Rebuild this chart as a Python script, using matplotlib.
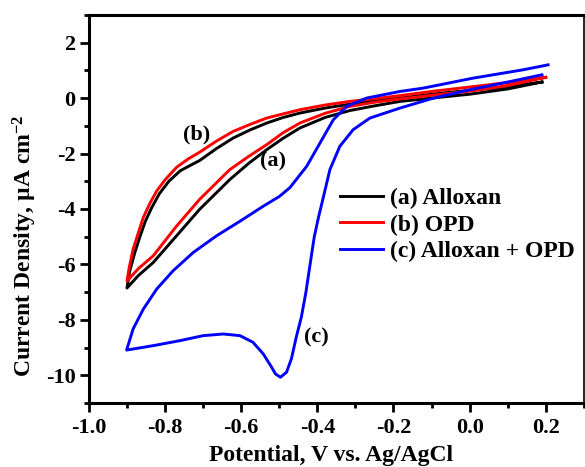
import matplotlib
matplotlib.use("Agg")
import matplotlib.pyplot as plt
from matplotlib.ticker import MultipleLocator

plt.rcParams['font.family'] = ['Liberation Serif', 'DejaVu Serif']
plt.rcParams['font.weight'] = 'bold'
plt.rcParams['axes.unicode_minus'] = False
plt.rcParams['mathtext.fontset'] = 'custom'
plt.rcParams['mathtext.rm'] = 'Liberation Serif:bold'
plt.rcParams['mathtext.it'] = 'Liberation Serif:bold'
plt.rcParams['mathtext.bf'] = 'Liberation Serif:bold'
plt.rcParams['mathtext.default'] = 'bf'

# (a) Alloxan: inner branch 0.19 -> -0.9, then outer branch back to 0.19
a_x = [0.19, 0.1, 0.0, -0.1, -0.183, -0.25, -0.315, -0.38, -0.446, -0.49, -0.533, -0.58, -0.630, -0.709,
       -0.770, -0.831, -0.87, -0.90,
       -0.893, -0.880, -0.866, -0.852, -0.835, -0.815, -0.79, -0.76, -0.73, -0.709, -0.665, -0.621,
       -0.577, -0.533, -0.49, -0.446, -0.38, -0.315, -0.25, -0.183, -0.1, 0.0, 0.1, 0.19]
a_y = [0.58, 0.33, 0.14, 0.0, -0.12, -0.28, -0.45, -0.70, -1.08, -1.45, -1.86, -2.35, -2.94, -4.01,
       -4.97, -5.93, -6.40, -6.85,
       -6.25, -5.60, -5.00, -4.45, -3.95, -3.45, -3.00, -2.62, -2.40, -2.25, -1.82, -1.44,
       -1.15, -0.90, -0.70, -0.54, -0.36, -0.22, -0.10, 0.00, 0.14, 0.28, 0.42, 0.58]

# (b) OPD
b_x = [0.20, 0.1, 0.0, -0.1, -0.183, -0.25, -0.315, -0.38, -0.446, -0.49, -0.533, -0.58, -0.630, -0.709,
       -0.770, -0.831, -0.87, -0.90,
       -0.894, -0.884, -0.870, -0.857, -0.84, -0.822, -0.80, -0.77, -0.74, -0.709, -0.665, -0.621,
       -0.577, -0.533, -0.49, -0.446, -0.38, -0.315, -0.25, -0.183, -0.1, 0.0, 0.1, 0.20]
b_y = [0.75, 0.45, 0.25, 0.10, -0.03, -0.15, -0.30, -0.55, -0.90, -1.25, -1.68, -2.10, -2.58, -3.65,
       -4.62, -5.69, -6.15, -6.60,
       -6.10, -5.45, -4.85, -4.30, -3.80, -3.35, -2.95, -2.50, -2.20, -1.95, -1.55, -1.20,
       -0.95, -0.72, -0.57, -0.42, -0.25, -0.12, -0.02, 0.09, 0.24, 0.40, 0.56, 0.75]

# (c) Alloxan + OPD: cathodic branch with peak, then return branch
c_x = [0.19, 0.1, 0.0, -0.1, -0.183, -0.262, -0.306, -0.341, -0.367, -0.389, -0.397, -0.408, -0.418,
       -0.430, -0.442, -0.455, -0.468, -0.481, -0.497, -0.51, -0.520, -0.542, -0.569, -0.603, -0.647,
       -0.700, -0.761, -0.831, -0.901,
       -0.884, -0.857, -0.822, -0.779, -0.726, -0.665, -0.603, -0.542, -0.50, -0.472, -0.428, -0.393,
       -0.358, -0.323, -0.271, -0.183, -0.122, 0.009, 0.140, 0.206]
c_y = [0.84, 0.58, 0.30, -0.02, -0.36, -0.72, -1.14, -1.74, -2.58, -3.85, -4.30, -5.00, -5.90,
       -7.00, -7.90, -8.60, -9.40, -9.89, -10.07, -9.95, -9.71, -9.23, -8.81, -8.57, -8.51,
       -8.57, -8.75, -8.93, -9.09,
       -8.33, -7.61, -6.89, -6.23, -5.57, -4.97, -4.44, -3.90, -3.55, -3.23, -2.46, -1.62,
       -0.78, -0.30, 0.00, 0.24, 0.36, 0.72, 1.02, 1.20]

series_labels = ['(a) Alloxan', '(b) OPD', '(c) Alloxan + OPD']
series_colors = ['black', 'red', 'blue']

fig = plt.figure(figsize=(5.85, 4.67), dpi=100)
ax = fig.add_axes([0.152, 0.137, 0.846, 0.831])

for xs, ys, lab, col in zip([a_x, b_x, c_x], [a_y, b_y, c_y], series_labels, series_colors):
    ax.plot(xs, ys, color=col, lw=2.1, label=lab, solid_joinstyle='round')

ax.set_xlim(-1.0, 0.3)
ax.set_ylim(-11, 3)
ax.xaxis.set_minor_locator(MultipleLocator(0.1))
ax.yaxis.set_minor_locator(MultipleLocator(1))
ax.set_xticks([-1.0, -0.8, -0.6, -0.4, -0.2, 0.0, 0.2])
ax.set_xticklabels(['-1.0', '-0.8', '-0.6', '-0.4', '-0.2', '0.0', '0.2'])
ax.set_yticks([-10, -8, -6, -4, -2, 0, 2])
ax.set_yticklabels(['-10', '-8', '-6', '-4', '-2', '0', '2'])

ax.tick_params(which='major', direction='out', length=6.5, width=2, labelsize=16)
ax.tick_params(axis='x', which='major', pad=4)
ax.tick_params(axis='y', which='major', pad=3)
ax.tick_params(which='minor', direction='out', length=3.8, width=2)
ax.tick_params(top=False, right=False, which='both')
for s in ['left', 'bottom', 'top']:
    ax.spines[s].set_linewidth(2.2)
ax.spines['right'].set_linewidth(1.2)

for lbl in ax.get_xticklabels() + ax.get_yticklabels():
    lbl.set_fontweight('bold')

ax.set_xlabel('Potential, V vs. Ag/AgCl', fontsize=17, fontweight='bold')
ax.set_ylabel('Current Density, µA cm$^{-2}$', fontsize=17, fontweight='bold')
ax.xaxis.set_label_coords(0.489, -0.108)
ax.yaxis.set_label_coords(-0.10, 0.405)

ax.text(-0.717, -1.32, '(b)', fontsize=16, fontweight='bold', ha='center', va='center')
ax.text(-0.516, -2.3, '(a)', fontsize=16, fontweight='bold', ha='center', va='center')
ax.text(-0.402, -8.63, '(c)', fontsize=16, fontweight='bold', ha='center', va='center')

leg = ax.legend(loc='center left', bbox_to_anchor=(0.507, 0.459), frameon=False,
                prop={'size': 17, 'weight': 'bold'}, handlelength=1.82, handletextpad=0.3,
                labelspacing=0.22, borderaxespad=0, borderpad=0)

fig.savefig('out.png', dpi=100)
